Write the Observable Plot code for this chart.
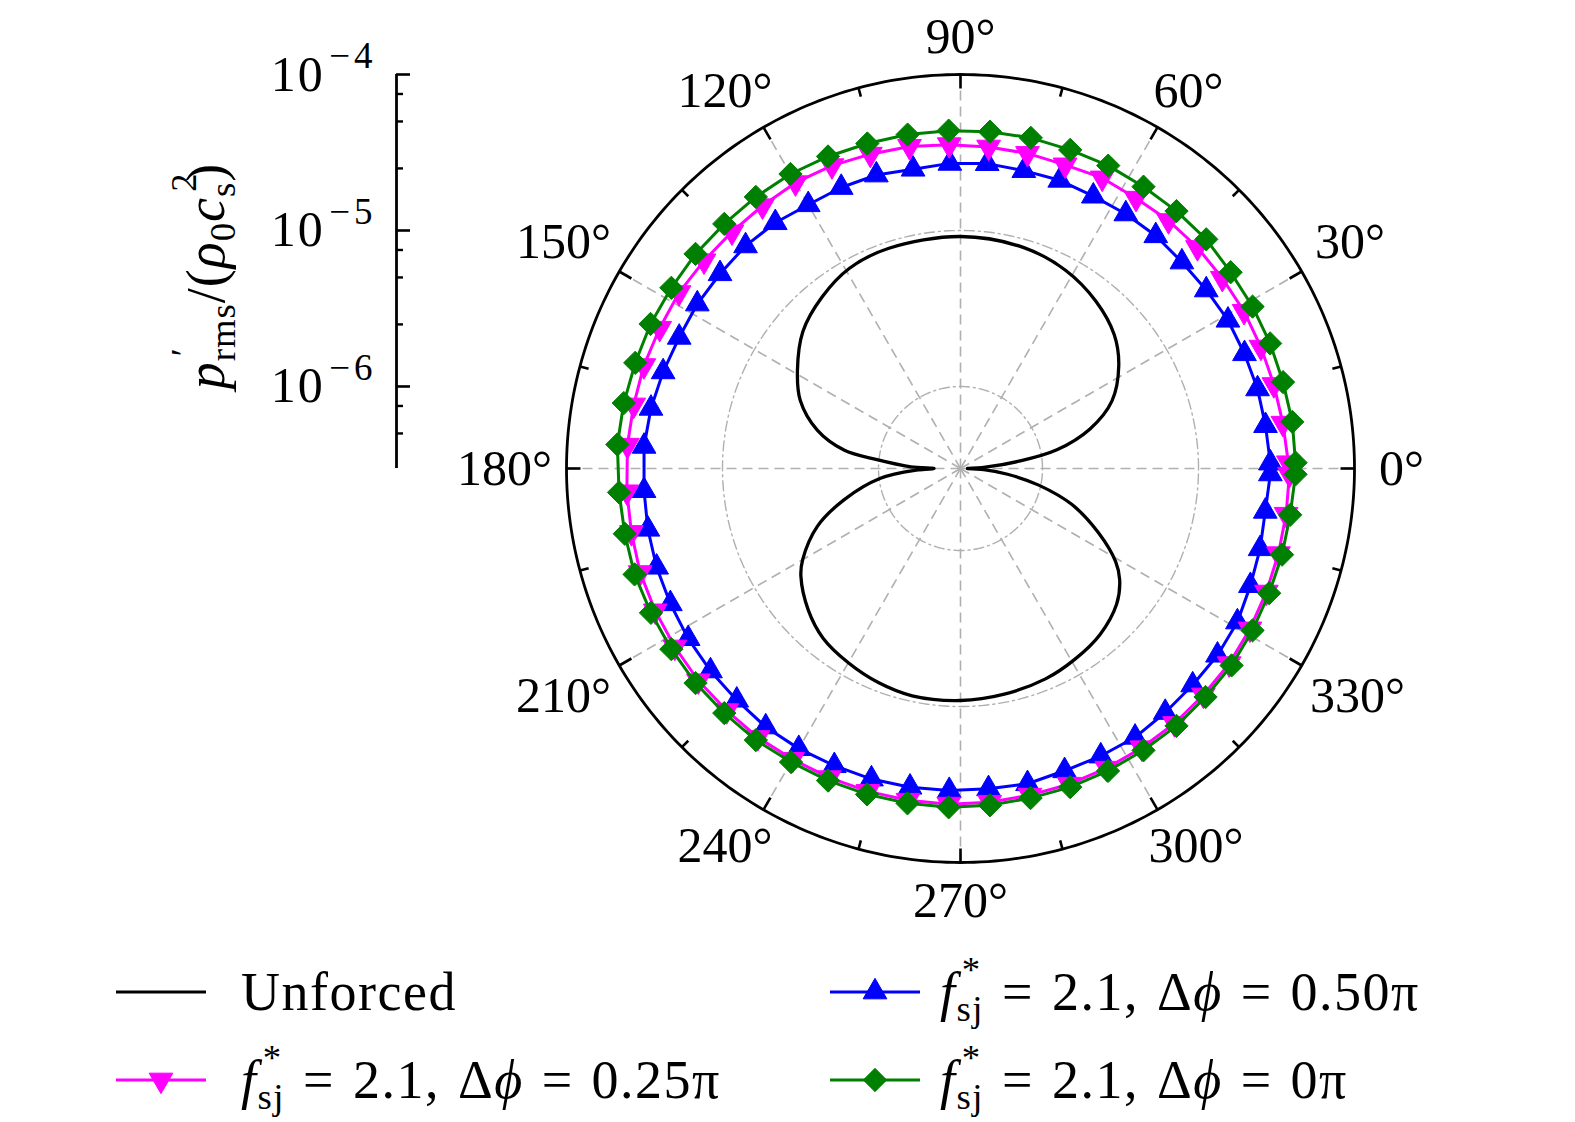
<!DOCTYPE html>
<html>
<head>
<meta charset="utf-8">
<script src="https://cdn.jsdelivr.net/npm/d3@7"></script>
<script src="https://cdn.jsdelivr.net/npm/@observablehq/plot@0.6"></script>
<style>
html,body{margin:0;padding:0;background:#fff;}
#chart{position:relative;width:1575px;height:1122px;overflow:hidden;background:#fff;font-family:"Liberation Serif","Times New Roman",serif;color:#000;}
#chart > svg{position:absolute;left:0;top:0;}
.ytitle{position:absolute;left:206px;top:276px;transform:translate(-50%,-50%) rotate(-90deg);white-space:nowrap;font-size:54px;line-height:1;letter-spacing:1px;}
.stk{display:inline-block;position:relative;}
.stk sup{position:absolute;left:0.14em;top:-0.36em;font-size:0.68em;line-height:1;}
.stk sub,sub.s0{font-size:0.68em;vertical-align:-0.3em;line-height:0;}
.leg{position:absolute;display:flex;align-items:center;height:54px;}
.leg svg{display:block;flex:none;}
.leg .txt{font-size:54px;line-height:54px;height:54px;white-space:nowrap;letter-spacing:1.5px;word-spacing:3px;}
</style>
</head>
<body>
<div id="chart"></div>
<script>
// ---------------- data ----------------
const radialMin = 2.98e-7;                 // value at the centre
const radialMax = 1e-4;                    // value at the outer circle
const radialMajorTicks = [1e-6, 1e-5, 1e-4];
const radialMinorTicks = [5e-7, 7.5e-7, 2.5e-6, 5e-6, 7.5e-6, 2.5e-5, 5e-5, 7.5e-5];
const gridLevels = [1e-6, 1e-5];
const angleLabels = [0, 30, 60, 90, 120, 150, 180, 210, 240, 270, 300, 330];

// unforced case (dipole shaped)
const unforcedAngles = [0, 3, 7, 11, 17, 24, 33, 41, 51, 62, 74, 90, 108, 119, 129, 139, 149, 157, 165, 171,
  174, 178, 180, 182, 187, 195, 202, 210, 214, 223, 231, 240, 249, 258, 270, 281, 292, 301, 310, 319,
  325, 329, 335, 342, 348, 353, 357, 360];
const unforcedValues = [3.3e-7, 4.3e-7, 7.0e-7, 1.27e-6, 2.20e-6, 3.44e-6, 4.83e-6, 6.03e-6, 7.14e-6, 8.17e-6,
  8.86e-6, 9.15e-6, 9.1e-6, 8.75e-6, 7.7e-6, 6.5e-6, 4.94e-6, 3.89e-6, 2.66e-6, 1.70e-6,
  1.03e-6, 6.2e-7, 4.4e-7, 5.6e-7, 9.8e-7, 1.76e-6, 2.91e-6, 4.39e-6, 5.11e-6, 6.42e-6,
  7.48e-6, 8.17e-6, 8.79e-6, 9.2e-6, 9.15e-6, 8.86e-6, 8.49e-6, 7.94e-6, 7.32e-6, 6.31e-6,
  5.25e-6, 4.31e-6, 2.82e-6, 1.69e-6, 9.7e-7, 6.0e-7, 4.2e-7, 3.3e-7];

// forced cases: values at the marker angles
const markerAngles = [1, 8, 15, 22, 29, 36, 43, 50, 57, 64, 71, 78, 85, 92, 99, 106, 113, 120, 127, 134, 141, 148, 155, 162, 169, 176,
  184, 191, 198, 205, 212, 219, 226, 233, 240, 247, 254, 261, 268, 275, 282, 289, 296, 303, 310, 317, 324, 331, 338, 345, 352, 359];
const phase050Values = [2.89e-5, 2.81e-5, 2.79e-5, 2.74e-5, 2.72e-5, 2.64e-5, 2.60e-5, 2.64e-5, 2.63e-5, 2.61e-5, 2.68e-5, 2.67e-5, 2.73e-5,
  2.70e-5, 2.61e-5, 2.70e-5, 2.70e-5, 2.67e-5, 2.80e-5, 2.87e-5, 2.87e-5, 2.91e-5, 2.91e-5, 3.01e-5, 3.13e-5, 3.22e-5,
  3.22e-5, 3.28e-5, 3.33e-5, 3.36e-5, 3.41e-5, 3.44e-5, 3.46e-5, 3.54e-5, 3.53e-5, 3.50e-5, 3.51e-5, 3.49e-5, 3.47e-5,
  3.43e-5, 3.47e-5, 3.34e-5, 3.35e-5, 3.38e-5, 3.28e-5, 3.23e-5, 3.24e-5, 3.19e-5, 3.01e-5, 2.90e-5, 2.80e-5, 2.89e-5];
const phase025Values = [3.77e-5, 3.64e-5, 3.58e-5, 3.56e-5, 3.57e-5, 3.54e-5, 3.56e-5, 3.54e-5, 3.47e-5, 3.52e-5, 3.41e-5, 3.46e-5, 3.49e-5,
  3.56e-5, 3.67e-5, 3.72e-5, 3.83e-5, 3.89e-5, 3.83e-5, 3.83e-5, 3.89e-5, 4.00e-5, 4.00e-5, 4.06e-5, 4.06e-5, 4.12e-5,
  4.15e-5, 4.20e-5, 4.30e-5, 4.30e-5, 4.30e-5, 4.33e-5, 4.28e-5, 4.30e-5, 4.24e-5, 4.24e-5, 4.24e-5, 4.24e-5, 4.24e-5,
  4.19e-5, 4.12e-5, 4.12e-5, 4.09e-5, 4.06e-5, 4.06e-5, 4.01e-5, 4.01e-5, 3.94e-5, 3.88e-5, 3.84e-5, 3.82e-5, 3.83e-5];
const phase000Values = [4.19e-5, 4.19e-5, 4.12e-5, 4.12e-5, 4.12e-5, 4.12e-5, 4.25e-5, 4.25e-5, 4.25e-5, 4.31e-5, 4.31e-5, 4.38e-5, 4.38e-5,
  4.38e-5, 4.38e-5, 4.38e-5, 4.44e-5, 4.51e-5, 4.51e-5, 4.51e-5, 4.57e-5, 4.57e-5, 4.64e-5, 4.64e-5, 4.71e-5, 4.78e-5,
  4.66e-5, 4.64e-5, 4.69e-5, 4.61e-5, 4.57e-5, 4.57e-5, 4.51e-5, 4.51e-5, 4.44e-5, 4.44e-5, 4.44e-5, 4.44e-5, 4.44e-5,
  4.38e-5, 4.31e-5, 4.31e-5, 4.28e-5, 4.25e-5, 4.25e-5, 4.19e-5, 4.19e-5, 4.12e-5, 4.06e-5, 4.06e-5, 4.06e-5, 4.19e-5];

const forcingFrequency = "2.1";
const seriesPhases = ["0.50π", "0.25π", "0π"];
const unforcedLabel = "Unforced";

// ---------------- helpers ----------------
const triangleDown = {
  draw(context, size) {
    const y = -Math.sqrt(size / (Math.sqrt(3) * 3));
    context.moveTo(0, -2 * y);
    context.lineTo(-Math.sqrt(3) * y, y);
    context.lineTo(Math.sqrt(3) * y, y);
    context.closePath();
  }
};

const series = [
  {phase: seriesPhases[0], values: phase050Values, color: "#0000ff", symbol: "triangle", d3symbol: d3.symbolTriangle, r: 8.8},
  {phase: seriesPhases[1], values: phase025Values, color: "#ff00ff", symbol: triangleDown, d3symbol: triangleDown, r: 8.8},
  {phase: seriesPhases[2], values: phase000Values, color: "#008000", symbol: "diamond2", d3symbol: d3.symbolDiamond2, r: 10.5}
];

const radial = Plot.scale({x: {type: "log", domain: [radialMin, radialMax], range: [0, 1]}});
const rad = (a) => a * Math.PI / 180;
const X = (d) => radial.apply(d.v) * Math.cos(rad(d.a));
const Y = (d) => radial.apply(d.v) * Math.sin(rad(d.a));
const circlePts = (v) => d3.range(0, 361, 1).map((a) => ({a, v}));

const PX = 394;               // pixels per unit radius
const labelFont = 50;
// label placement just outside the outer circle (pixel offsets converted to data units)
function labelX(a) {
  const c = Math.cos(rad(a));
  if (Math.abs(c) < 0.01) return 0;
  const w = labelFont * (0.5 * String(a).length + 0.4);
  return Math.sign(c) * (441 * Math.abs(c) - 13.5 + 0.3 * w) / PX;
}
function labelY(a) {
  const s = Math.sin(rad(a));
  if (Math.abs(s) < 0.01) return 0;
  return Math.sign(s) * (410 * Math.abs(s) + 22) / PX;
}
const angularTicks = d3.range(0, 360, 15);
const tickLen = (a) => (a % 30 === 0 ? 14 : 9) / PX;

const unforced = unforcedAngles.map((a, i) => ({a, v: unforcedValues[i]}));

const seriesMarks = series.flatMap((s) => {
  const pts = markerAngles.map((a, i) => ({a, v: s.values[i]}));
  const loop = [...pts, pts[0]];
  return [
    Plot.line(loop, {x: X, y: Y, stroke: s.color, strokeWidth: 3}),
    Plot.dot(pts, {x: X, y: Y, symbol: s.symbol, r: s.r, fill: s.color, stroke: s.color, strokeWidth: 1})
  ];
});

// ---------------- polar plot ----------------
const polar = Plot.plot({
  width: 1575, height: 1122,
  marginLeft: 566, marginRight: 221, marginTop: 74, marginBottom: 260,
  x: {domain: [-1, 1], axis: null},
  y: {domain: [-1, 1], axis: null},
  style: {background: "none", overflow: "visible"},
  marks: [
    Plot.line(gridLevels.flatMap(circlePts), {x: X, y: Y, z: "v", stroke: "#b0b0b0", strokeWidth: 1.4, strokeDasharray: "10,4,2,4"}),
    Plot.link(angleLabels, {x1: 0, y1: 0, x2: (a) => Math.cos(rad(a)), y2: (a) => Math.sin(rad(a)),
      stroke: "#b0b0b0", strokeWidth: 1.6, strokeDasharray: "10,6"}),
    Plot.line(circlePts(radialMax), {x: X, y: Y, stroke: "black", strokeWidth: 2.8}),
    Plot.link(angularTicks, {
      x1: (a) => Math.cos(rad(a)), y1: (a) => Math.sin(rad(a)),
      x2: (a) => (1 - tickLen(a)) * Math.cos(rad(a)), y2: (a) => (1 - tickLen(a)) * Math.sin(rad(a)),
      stroke: "black", strokeWidth: 2.6
    }),
    Plot.line(unforced, {x: X, y: Y, stroke: "black", strokeWidth: 3.3, curve: "catmull-rom"}),
    ...seriesMarks,
    Plot.text(angleLabels, {
      x: labelX,
      y: labelY,
      text: (a) => `${a}°`,
      fontSize: labelFont, fontFamily: "Liberation Serif", fill: "black",
      textAnchor: "middle", lineAnchor: "middle"
    })
  ]
});

// ---------------- radial (log) axis on the left ----------------
const axisLeft = 396;
const radialAxis = Plot.plot({
  width: 1575, height: 1122,
  marginLeft: axisLeft, marginRight: 1575 - axisLeft - 14, marginTop: 74, marginBottom: 1122 - 468,
  x: {domain: [0, 1], axis: null},
  y: {type: "log", domain: [radialMin, radialMax], axis: null},
  style: {background: "none", overflow: "visible", fontFamily: "Liberation Serif"},
  marks: [
    Plot.ruleX([0], {stroke: "black", strokeWidth: 2.8}),
    Plot.ruleY(radialMajorTicks, {y: (d) => d, x1: 0, x2: 1, stroke: "black", strokeWidth: 2.6}),
    Plot.ruleY(radialMinorTicks, {y: (d) => d, x1: 0, x2: 0.5, stroke: "black", strokeWidth: 2.4}),
    Plot.axisY({anchor: "left", ticks: radialMajorTicks, tickSize: 0, tickPadding: 20, label: null,
      fontSize: 50, fontFamily: "Liberation Serif", fill: "black",
      tickFormat: (d) => `10|−${Math.round(-Math.log10(d))}`})
  ]
});
// turn the exponent into a raised superscript
d3.select(radialAxis).selectAll("text").each(function () {
  const s = this.textContent;
  if (!s.includes("|")) return;
  const [base, exp] = s.split("|");
  const t = d3.select(this);
  t.text(null);
  t.append("tspan").attr("letter-spacing", "2px").text(base);
  t.append("tspan").attr("dy", "-0.6em").attr("dx", "0.12em").attr("font-size", "0.74em")
    .attr("letter-spacing", "4px").text(exp);
});

const chart = document.getElementById("chart");
chart.appendChild(polar);
chart.appendChild(radialAxis);

// ---------------- y title ----------------
const title = document.createElement("div");
title.className = "ytitle";
title.innerHTML = '<i>p</i><span class="stk"><sup>′</sup><sub>rms</sub></span>/(<i>ρ</i><sub class="s0">0</sub><i>c</i><span class="stk"><sup>2</sup><sub>s</sub></span>)';
chart.appendChild(title);

// ---------------- legend ----------------
function swatch(color, symbolType, r) {
  const svg = d3.create("svg").attr("width", 90).attr("height", 54);
  svg.append("line").attr("x1", 0).attr("x2", 90).attr("y1", 27).attr("y2", 27)
    .attr("stroke", color).attr("stroke-width", 3);
  if (symbolType) {
    svg.append("path").attr("transform", "translate(45,27)")
      .attr("d", d3.symbol(symbolType, Math.PI * r * r)())
      .attr("fill", color).attr("stroke", color).attr("stroke-width", 1);
  }
  return svg.node();
}
function forcedLabel(phase) {
  return `<i>f</i><span class="stk"><sup>*</sup><sub>sj</sub></span> = ${forcingFrequency}, Δ<i>ϕ</i> = ${phase}`;
}
const legendItems = [
  {x: 116, y: 992, gap: 35, color: "black", sym: null, r: 0, html: unforcedLabel},
  {x: 830, y: 992, gap: 20, color: series[0].color, sym: series[0].d3symbol, r: series[0].r, html: forcedLabel(series[0].phase)},
  {x: 116, y: 1080, gap: 35, color: series[1].color, sym: series[1].d3symbol, r: series[1].r, html: forcedLabel(series[1].phase)},
  {x: 830, y: 1080, gap: 20, color: series[2].color, sym: series[2].d3symbol, r: series[2].r, html: forcedLabel(series[2].phase)}
];
for (const it of legendItems) {
  const div = document.createElement("div");
  div.className = "leg";
  div.style.left = it.x + "px";
  div.style.top = (it.y - 27) + "px";
  div.appendChild(swatch(it.color, it.sym, it.r));
  const txt = document.createElement("div");
  txt.className = "txt";
  txt.style.marginLeft = it.gap + "px";
  txt.innerHTML = it.html;
  div.appendChild(txt);
  chart.appendChild(div);
}
</script>
</body>
</html>
